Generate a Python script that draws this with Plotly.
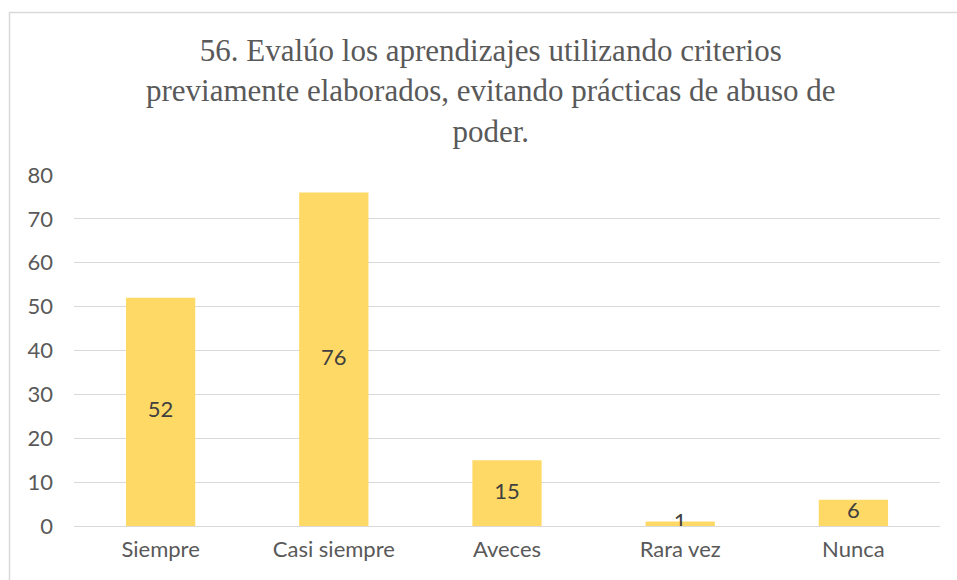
import plotly.graph_objects as go

categories = ["Siempre", "Casi siempre", "Aveces", "Rara vez", "Nunca"]
values = [52, 76, 15, 1, 6]
y_ticks = [0, 10, 20, 30, 40, 50, 60, 70, 80]
title_lines = [
    "56. Evalúo los aprendizajes utilizando criterios",
    "previamente elaborados, evitando prácticas de abuso de",
    "poder.",
]

W, H = 957, 580
ML, MR, MT, MB = 74, 17, 175, 54
pw, ph = W - ML - MR, H - MT - MB

label_font = dict(family="Lato", size=22, color="#595959")

fig = go.Figure()
fig.add_trace(go.Bar(
    x=categories, y=values,
    marker=dict(color="#FFD966", line=dict(width=0)),
    hoverinfo="skip",
))
# value labels centred within each bar
fig.add_trace(go.Scatter(
    x=categories, y=[v / 2 for v in values],
    mode="text", text=[str(v) for v in values],
    textfont=dict(family="Lato", size=22, color="#404040"),
    textposition="middle center", hoverinfo="skip",
))

fig.update_layout(
    width=W, height=H,
    margin=dict(l=ML, r=MR, t=MT, b=MB),
    paper_bgcolor="white", plot_bgcolor="white",
    showlegend=False, bargap=0.6,
    xaxis=dict(showgrid=False, showline=False, ticks="", tickfont=label_font,
               ticklabelstandoff=8),
    yaxis=dict(range=[0, 80], tickvals=y_ticks, showgrid=True, gridcolor="#D9D9D9",
               gridwidth=1, zeroline=True, zerolinecolor="#D9D9D9", zerolinewidth=1,
               showline=False, ticks="", tickfont=label_font, ticklabelstandoff=20),
    annotations=[dict(
        text="<br>".join(title_lines),
        xref="paper", yref="paper",
        x=(490 - ML) / pw, y=1 + (MT - 91) / ph,
        xanchor="center", yanchor="middle", showarrow=False,
        font=dict(family="Liberation Serif", size=31, color="#595959"),
    )],
    shapes=[dict(
        type="rect", xref="paper", yref="paper", layer="above",
        x0=(9.5 - ML) / pw, x1=(990 - ML) / pw,
        y0=1 + (MT - 600) / ph, y1=1 + (MT - 12.5) / ph,
        line=dict(color="#D9D9D9", width=1.5), fillcolor="rgba(0,0,0,0)",
    )],
)

fig.write_html("out.html")
